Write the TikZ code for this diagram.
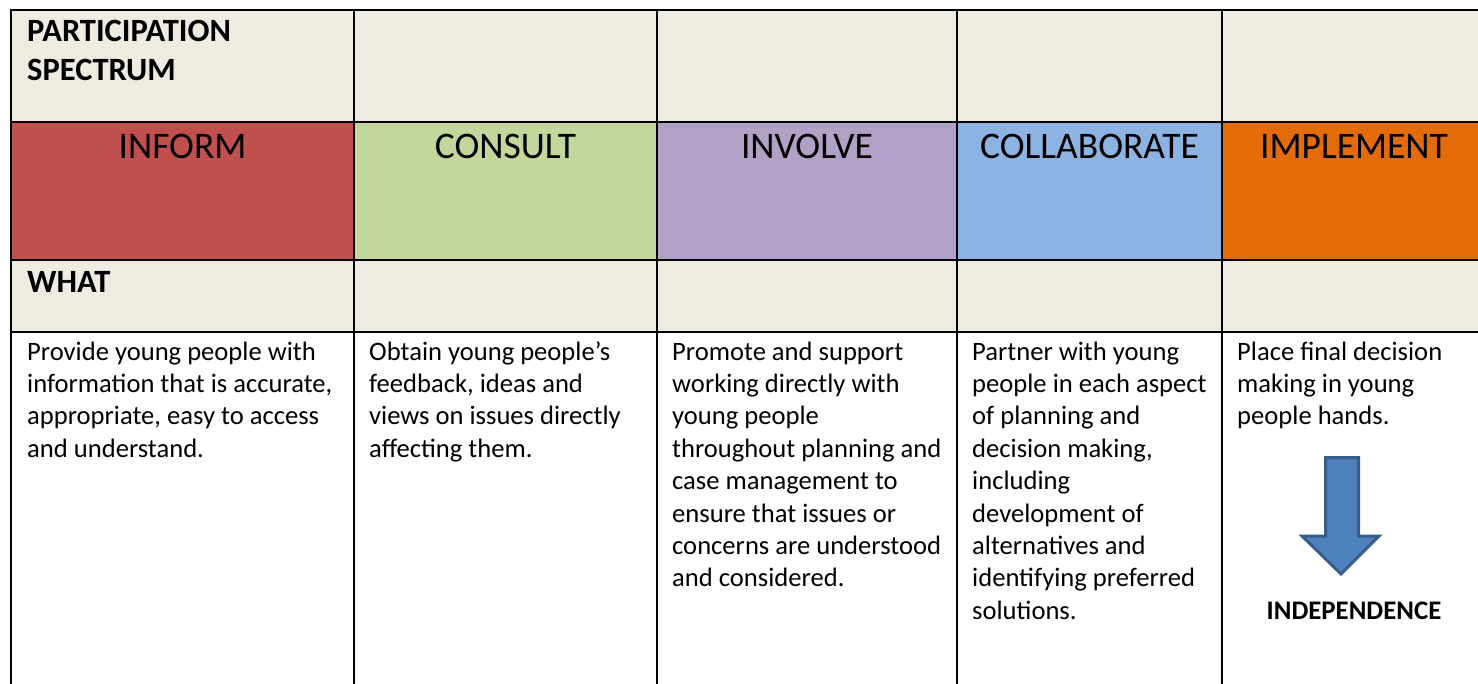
\documentclass[tikz,border=0pt]{standalone}
\usepackage{fontspec}
\setmainfont{Carlito}
\definecolor{hdrbg}{HTML}{EEEBE0}
\definecolor{cinform}{HTML}{C0504D}
\definecolor{cconsult}{HTML}{C3D69B}
\definecolor{cinvolve}{HTML}{B2A1C7}
\definecolor{ccollab}{HTML}{8DB3E2}
\definecolor{cimpl}{HTML}{E36C09}
\definecolor{arrowfill}{HTML}{4F81BD}
\definecolor{arrowline}{HTML}{385D8A}
\begin{document}
\begin{tikzpicture}[x=1pt,y=-1pt,
  gridline/.style={line width=1.7pt,black},
  bodytxt/.style={anchor=base west,inner sep=0pt,font=\fontsize{26.6}{32.4}\selectfont},
  hdrtxt/.style={anchor=base,inner sep=0pt,font=\fontsize{37.5}{40}\selectfont},
  boldtxt/.style={anchor=base west,inner sep=0pt,font=\fontsize{32.5}{39}\selectfont\bfseries},
  bigarrow/.style={fill=arrowfill,draw=arrowline,line width=3pt,line join=miter}]
\useasboundingbox (0,0) rectangle (1478,683);
% fills
\fill[hdrbg] (11,10) rectangle (1480,122);
\fill[cinform] (11,122) rectangle (354,260);
\fill[cconsult] (354,122) rectangle (657,260);
\fill[cinvolve] (657,122) rectangle (957,260);
\fill[ccollab] (957,122) rectangle (1222,260);
\fill[cimpl] (1222,122) rectangle (1480,260);
\fill[hdrbg] (11,260) rectangle (1480,332);
% grid
\foreach \yy in {10,122,260,332} \draw[gridline] (10.15,\yy) -- (1480,\yy);
\foreach \xx in {11,354,657,957,1222} \draw[gridline] (\xx,9.15) -- (\xx,684);
% title texts
\node[boldtxt] (title) at (27,41.5) {\begin{tabular}[t]{@{}l@{}}PARTICIPATION\\[0pt]SPECTRUM\end{tabular}};
\node[boldtxt] (what) at (27,292) {WHAT};
% headers
\node[hdrtxt] (h1) at (182.5,158.5) {INFORM};
\node[hdrtxt] (h2) at (505.5,158.5) {CONSULT};
\node[hdrtxt] (h3) at (807,158.5) {INVOLVE};
\node[hdrtxt] (h4) at (1089.5,158.5) {COLLABORATE};
\node[hdrtxt] (h5) at (1354,158.5) {IMPLEMENT};
% body
\node[bodytxt] (b1) at (27,360) {\begin{tabular}[t]{@{}l@{}}Provide young people with\\information that is accurate,\\appropriate, easy to access\\and understand.\end{tabular}};
\node[bodytxt] (b2) at (369,360) {\begin{tabular}[t]{@{}l@{}}Obtain young people’s\\feedback, ideas and\\views on issues directly\\affecting them.\end{tabular}};
\node[bodytxt] (b3) at (672,360) {\begin{tabular}[t]{@{}l@{}}Promote and support\\working directly with\\young people\\throughout planning and\\case management to\\ensure that issues or\\concerns are understood\\and considered.\end{tabular}};
\node[bodytxt] (b4) at (972,360) {\begin{tabular}[t]{@{}l@{}}Partner with young\\people in each aspect\\of planning and\\decision making,\\including\\development of\\alternatives and\\identifying preferred\\solutions.\end{tabular}};
\node[bodytxt] (b5) at (1237,360) {\begin{tabular}[t]{@{}l@{}}Place final decision\\making in young\\people hands.\end{tabular}};
% arrow
\draw[bigarrow] (1325.5,457.5) -- (1358.5,457.5) -- (1358.5,536) -- (1379,536) -- (1341,574) -- (1302,536) -- (1325.5,536) -- cycle;
\node[anchor=base,inner sep=0pt,font=\fontsize{26.8}{30}\selectfont\bfseries] (indep) at (1354,619.5) {INDEPENDENCE};
\end{tikzpicture}
\end{document}
